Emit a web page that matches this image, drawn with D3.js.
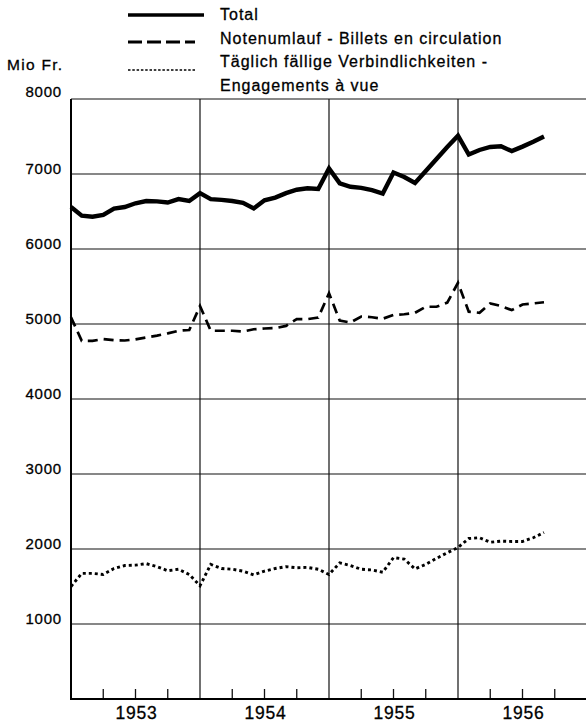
<!DOCTYPE html>
<html>
  <head>
    <script src="https://d3js.org/d3.v7.min.js"></script>
    <style>
      body { margin: 0; background: #fff; }
      svg { display: block; font-family: "Liberation Sans", Arial, sans-serif; }
      text { stroke: #000; stroke-width: 0.3; }
    </style>
  </head>
  <body>
    <svg width="586" height="725"></svg>
    <script>
      // month-end values, Dec 1952 .. Aug 1956 (Mio Fr.)
      var total = [6560, 6445, 6430, 6455, 6540, 6560, 6610, 6640, 6635, 6620, 6665, 6640,
                   6745, 6665, 6655, 6640, 6615, 6540, 6650, 6685, 6745, 6790, 6810, 6800,
                   7075, 6875, 6830, 6815, 6785, 6740, 7020, 6960, 6880, 7040, 7200, 7360,
                   7510, 7260, 7320, 7360, 7370, 7305, 7365, 7430, 7500];
      var notes = [5090, 4775, 4775, 4800, 4785, 4780, 4795, 4820, 4845, 4875, 4910, 4920,
                   5240, 4910, 4910, 4910, 4900, 4930, 4940, 4945, 4975, 5065, 5065, 5085,
                   5410, 5045, 5020, 5100, 5090, 5070, 5120, 5130, 5150, 5230, 5230, 5285,
                   5550, 5165, 5150, 5275, 5240, 5185, 5260, 5275, 5290];
      var sight = [1500, 1675, 1675, 1660, 1740, 1780, 1785, 1805, 1765, 1710, 1730, 1660,
                   1510, 1795, 1740, 1730, 1705, 1655, 1705, 1740, 1765, 1750, 1755, 1730,
                   1660, 1815, 1780, 1730, 1720, 1690, 1885, 1865, 1735, 1795, 1875, 1950,
                   2020, 2140, 2150, 2090, 2105, 2100, 2100, 2150, 2220];
      var yTicks = [1000, 2000, 3000, 4000, 5000, 6000, 7000, 8000];
      var years = ["1953", "1954", "1955", "1956"];
      var legendLabels = ["Total", "Notenumlauf - Billets en circulation",
                          "Täglich fällige Verbindlichkeiten -", "Engagements à vue"];

      var svg = d3.select("svg");
      var x = d3.scaleLinear().domain([0, 48]).range([71, 587]);
      var y = d3.scaleLinear().domain([0, 8000]).range([699, 99]);

      // horizontal grid
      svg.selectAll("line.h").data(yTicks).enter().append("line")
        .attr("x1", x(0)).attr("x2", x(48))
        .attr("y1", d => y(d)).attr("y2", d => y(d))
        .attr("stroke", "#111").attr("stroke-width", 1.2);
      // vertical year lines
      svg.selectAll("line.v").data([12, 24, 36, 48]).enter().append("line")
        .attr("x1", d => x(d)).attr("x2", d => x(d))
        .attr("y1", y(8000)).attr("y2", y(0))
        .attr("stroke", "#111").attr("stroke-width", 1.2);
      // quarter ticks
      var qt = d3.range(3, 48, 3).filter(d => d % 12 != 0);
      svg.selectAll("line.t").data(qt).enter().append("line")
        .attr("x1", d => x(d)).attr("x2", d => x(d))
        .attr("y1", y(0)).attr("y2", y(0) - 10)
        .attr("stroke", "#111").attr("stroke-width", 1.3);
      // axes
      svg.append("line").attr("x1", x(0)).attr("x2", x(0))
        .attr("y1", y(8000)).attr("y2", y(0) + 1)
        .attr("stroke", "#000").attr("stroke-width", 2);
      svg.append("line").attr("x1", x(0) - 1).attr("x2", x(48))
        .attr("y1", y(0)).attr("y2", y(0))
        .attr("stroke", "#000").attr("stroke-width", 2);

      // y labels
      svg.selectAll("text.y").data(yTicks).enter().append("text")
        .attr("x", 62).attr("y", d => y(d) - (d == 8000 ? 2 : 0))
        .attr("text-anchor", "end").attr("font-size", 15)
        .attr("letter-spacing", 0.8)
        .text(d => d);
      svg.append("text").attr("x", 7).attr("y", 70).attr("font-size", 15.5)
        .attr("letter-spacing", 1.3).text("Mio Fr.");
      // year labels
      svg.selectAll("text.yr").data(years).enter().append("text")
        .attr("x", (d, i) => x(6 + 12 * i) + 1).attr("y", 719)
        .attr("text-anchor", "middle").attr("font-size", 17.5)
        .attr("letter-spacing", 0.8)
        .text(d => d);

      var line = d3.line().x((d, i) => x(i)).y(d => y(d));
      var styles = [
        {data: total, w: 4.4, dash: null},
        {data: notes, w: 2.7, dash: "10,6"},
        {data: sight, w: 2.9, dash: "3,3"}
      ];
      styles.forEach(function (s) {
        svg.append("path").datum(s.data)
          .attr("d", line)
          .attr("fill", "none").attr("stroke", "#000")
          .attr("stroke-width", s.w)
          .attr("stroke-linejoin", "miter")
          .attr("stroke-dasharray", s.dash);
      });

      // legend
      var legY = [15, 42, 70];
      var legX2 = [204, 195, 195];
      styles.forEach(function (s, i) {
        svg.append("line").attr("x1", 128).attr("x2", legX2[i])
          .attr("y1", legY[i]).attr("y2", legY[i])
          .attr("stroke", "#000")
          .attr("stroke-width", i == 0 ? 3.6 : (i == 1 ? 2.8 : 1.6))
          .attr("stroke-dasharray", i == 0 ? null : (i == 1 ? "14,5" : "2.5,1.8"));
      });
      svg.selectAll("text.leg").data(legendLabels).enter().append("text")
        .attr("x", 220).attr("y", (d, i) => [20, 44, 67, 91][i])
        .attr("font-size", 16)
        .attr("letter-spacing", 1.0)
        .text(d => d);
    </script>
  </body>
</html>
